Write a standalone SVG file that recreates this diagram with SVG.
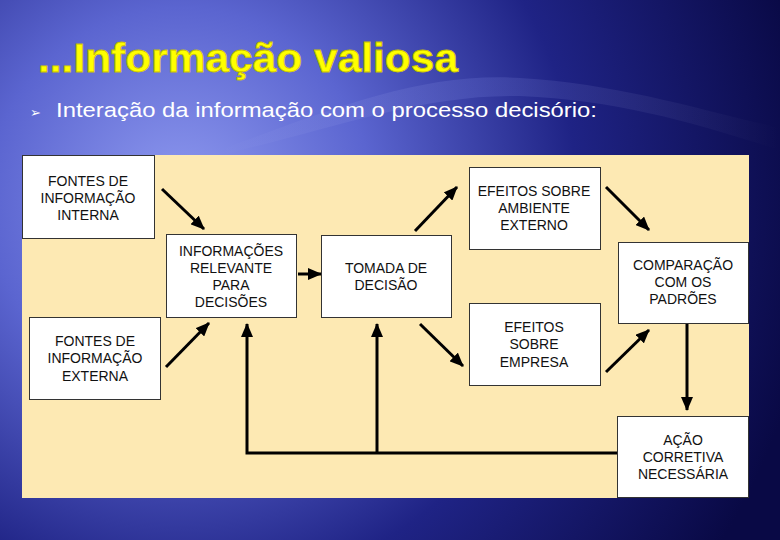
<svg xmlns="http://www.w3.org/2000/svg" width="780" height="540" viewBox="0 0 780 540">
<defs>
<radialGradient id="bg" cx="180" cy="200" r="640" gradientUnits="userSpaceOnUse">
<stop offset="0" stop-color="#8f9af0"/>
<stop offset="0.3" stop-color="#5b65d0"/>
<stop offset="0.62" stop-color="#1f2385"/>
<stop offset="1" stop-color="#090945"/>
</radialGradient>
<linearGradient id="wave" x1="0" y1="0" x2="1" y2="0">
<stop offset="0" stop-color="#ffffff" stop-opacity="0"/>
<stop offset="0.45" stop-color="#9aa6ff" stop-opacity="0.15"/>
<stop offset="1" stop-color="#ffffff" stop-opacity="0"/>
</linearGradient>
<marker id="ah" markerUnits="userSpaceOnUse" markerWidth="14" markerHeight="12" refX="13" refY="6" orient="auto">
<path d="M0,0 L14,6 L0,12 z" fill="#000"/>
</marker>
<style>
.box{fill:#ffffff;stroke:#333;stroke-width:1}
.t{font-family:"Liberation Sans",Arial,sans-serif;font-size:14px;fill:#111;text-anchor:middle}
.c{fill:none;stroke:#000;stroke-width:3}
</style>
</defs>
<rect width="780" height="540" fill="url(#bg)"/>
<path d="M220,150 C330,110 420,72 520,78 C620,84 700,110 780,128 L780,150 C700,125 620,100 520,96 C420,94 330,130 220,155 z" fill="url(#wave)"/>
<text x="38" y="72" font-family="'Liberation Sans',Arial,sans-serif" font-size="40" font-weight="bold" fill="#ffff00" stroke="#c8c000" stroke-width="0.8" textLength="420" lengthAdjust="spacingAndGlyphs">...Informação valiosa</text>
<text x="30" y="117" font-family="'DejaVu Sans',sans-serif" font-size="13" fill="#ffffff">➢</text>
<text x="56" y="117" font-family="'Liberation Sans',Arial,sans-serif" font-size="21" fill="#ffffff" textLength="541" lengthAdjust="spacingAndGlyphs">Interação da informação com o processo decisório:</text>
<rect x="22" y="155" width="727" height="343" fill="#fde9b3"/>
<g id="connectors">
<line class="c" x1="162" y1="189" x2="204" y2="229" marker-end="url(#ah)"/>
<line class="c" x1="298" y1="274" x2="321" y2="274" marker-end="url(#ah)"/>
<line class="c" x1="415" y1="231" x2="457" y2="187" marker-end="url(#ah)"/>
<line class="c" x1="606" y1="187" x2="649" y2="230" marker-end="url(#ah)"/>
<line class="c" x1="420" y1="324" x2="463" y2="366" marker-end="url(#ah)"/>
<line class="c" x1="606" y1="372" x2="649" y2="330" marker-end="url(#ah)"/>
<line class="c" x1="687" y1="323" x2="687" y2="410" marker-end="url(#ah)"/>
<line class="c" x1="166" y1="367" x2="209" y2="323" marker-end="url(#ah)"/>
<path class="c" d="M617,453 H247 V324" marker-end="url(#ah)"/>
<path class="c" d="M377,453 V324" marker-end="url(#ah)"/>
</g>
<g id="n1"><rect class="box" x="22.5" y="155.5" width="132" height="83"/>
<text class="t" x="88" y="186">FONTES DE</text><text class="t" x="88" y="203">INFORMAÇÃO</text><text class="t" x="88" y="220">INTERNA</text></g>
<g id="n2"><rect class="box" x="166.5" y="234.5" width="130" height="83"/>
<text class="t" x="231" y="256">INFORMAÇÕES</text><text class="t" x="231" y="273">RELEVANTE</text><text class="t" x="231" y="290">PARA</text><text class="t" x="231" y="307">DECISÕES</text></g>
<g id="n3"><rect class="box" x="321.5" y="235.5" width="130" height="82"/>
<text class="t" x="386" y="273">TOMADA DE</text><text class="t" x="386" y="290">DECISÃO</text></g>
<g id="n4"><rect class="box" x="469.5" y="167.5" width="131" height="82"/>
<text class="t" x="534" y="196">EFEITOS SOBRE</text><text class="t" x="534" y="213">AMBIENTE</text><text class="t" x="534" y="230">EXTERNO</text></g>
<g id="n5"><rect class="box" x="618.5" y="242.5" width="130" height="81"/>
<text class="t" x="683" y="270">COMPARAÇÃO</text><text class="t" x="683" y="287">COM OS</text><text class="t" x="683" y="304">PADRÕES</text></g>
<g id="n6"><rect class="box" x="29.5" y="317.5" width="131" height="82"/>
<text class="t" x="95" y="346">FONTES DE</text><text class="t" x="95" y="363">INFORMAÇÃO</text><text class="t" x="95" y="381">EXTERNA</text></g>
<g id="n7"><rect class="box" x="469.5" y="303.5" width="131" height="82"/>
<text class="t" x="534" y="332">EFEITOS</text><text class="t" x="534" y="349">SOBRE</text><text class="t" x="534" y="367">EMPRESA</text></g>
<g id="n8"><rect class="box" x="617.5" y="416.5" width="131" height="81"/>
<text class="t" x="683" y="445">AÇÃO</text><text class="t" x="683" y="462">CORRETIVA</text><text class="t" x="683" y="479">NECESSÁRIA</text></g>
</svg>
